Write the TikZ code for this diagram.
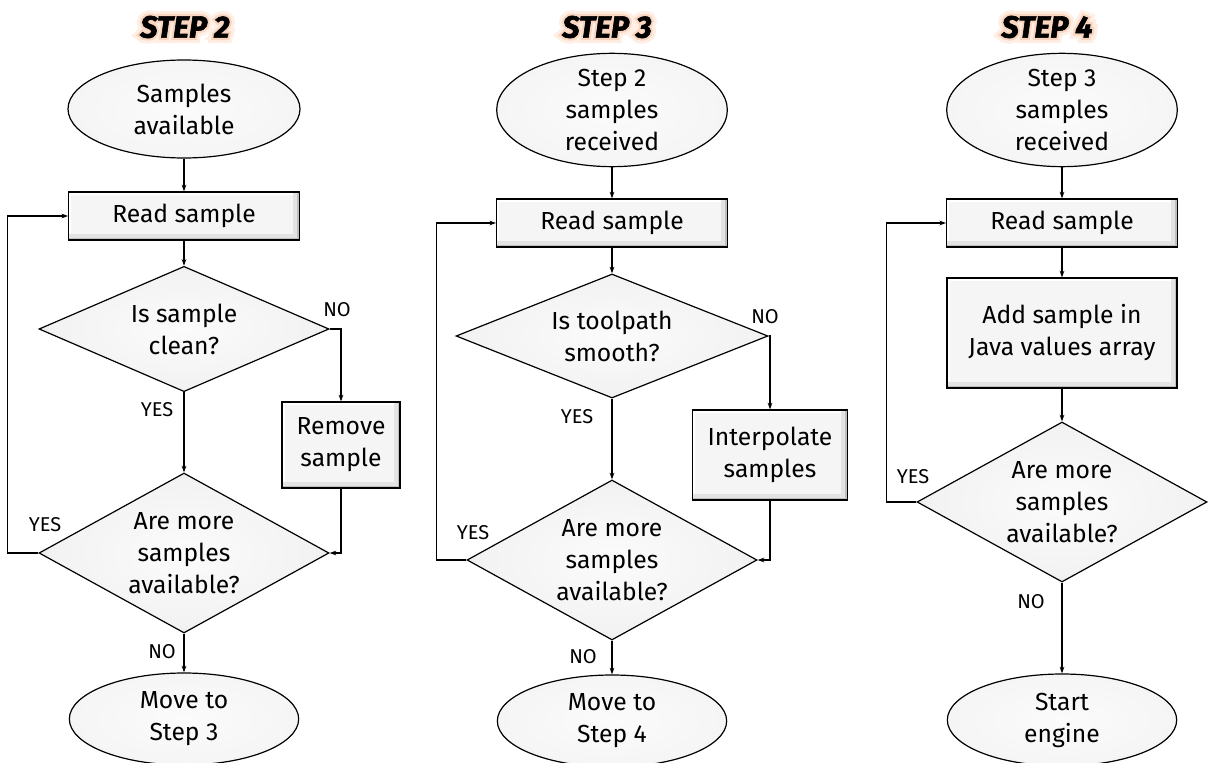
\documentclass[tikz,border=0pt]{standalone}
\usepackage{fontspec}
\setmainfont{Fira Sans}
\usetikzlibrary{shapes.geometric,arrows.meta}

\definecolor{glowout}{RGB}{254,238,228}
\definecolor{glowin}{RGB}{250,214,192}
\colorlet{shadeA}{gray!3}
\colorlet{shadeB}{gray!10}
\colorlet{shadeC}{gray!32}
\colorlet{shadeD}{gray!70}
\colorlet{boxgray}{gray!8}

\pgfdeclareradialshading{ovalshade}{\pgfpoint{0bp}{0bp}}{color(0bp)=(shadeA); color(36bp)=(shadeB); color(45bp)=(shadeC); color(50bp)=(shadeD)}
\pgfdeclareradialshading{diashade}{\pgfpoint{0bp}{0bp}}{color(0bp)=(shadeA); color(23bp)=(shadeB); color(31bp)=(shadeC); color(35.4bp)=(shadeD); color(50bp)=(shadeD)}

\tikzset{
  base/.style={draw=black, line width=0.9pt, align=center, text=black,
    font=\fontsize{18.5}{24}\selectfont},
  oval/.style={base, ellipse, inner sep=-4pt, shade, shading=ovalshade},
  box/.style={base, rectangle, inner sep=0pt, fill=boxgray,
    path picture={
      \draw[white, line width=4pt] (path picture bounding box.south west) |- (path picture bounding box.north east);
      \draw[gray!22, line width=9pt] (path picture bounding box.north east) |- (path picture bounding box.south west);
      \draw[gray!50, line width=3.5pt] (path picture bounding box.north east) |- (path picture bounding box.south west);
    }},
  decision/.style={base, diamond, inner sep=0pt, aspect=1.8, shade, shading=diashade},
  arr/.style={-{Stealth[length=5pt,width=3.5pt]}, line width=0.8pt},
  lbl/.style={font=\fontsize{15}{17}\selectfont, inner sep=0pt},
  ttl/.style={font=\fontsize{23}{26}\selectfont\bfseries\itshape, inner sep=0pt},
}

% heading with a soft halo (stroked copies behind the text)
\newcommand\glowtitle[3]{%
  \node[ttl, text=glowout] (#1o) at (#2) {\addfontfeature{FakeBold=36}#3};
  \node[ttl, text=glowin] (#1i) at (#2) {\addfontfeature{FakeBold=16}#3};
  \node[ttl] (#1) at (#2) {\addfontfeature{FakeBold=2}#3};
}

\begin{document}
\begin{tikzpicture}[x=0.75pt,y=0.75pt,yscale=-1,xscale=1]
\useasboundingbox (0,0) rectangle (1213,763);

\glowtitle{t2}{185,27}{STEP 2}
\node[oval, minimum width=174pt, minimum height=73.5pt] (s2start) at (184,109) {Samples\\available};
\node[box, minimum width=173pt, minimum height=36pt] (s2read) at (184,216) {Read sample};
\node[decision, minimum width=217.5pt, minimum height=94pt] (s2clean) at (184,329) {Is sample\\clean?};
\node[box, minimum width=88.5pt, minimum height=64.5pt] (s2remove) at (341,445) {Remove\\sample};
\node[decision, minimum width=217.5pt, minimum height=120pt] (s2more) at (184,553) {Are more\\samples\\available?};
\node[oval, minimum width=172pt, minimum height=69pt] (s2end) at (184,719) {Move to\\Step 3};
\draw[arr] (s2start) -- (s2read);
\draw[arr] (s2read) -- (s2clean);
\draw[arr] (s2clean.east) -| (s2remove.north);
\draw[arr] (s2clean.south) -- (s2more.north);
\draw[arr] (s2remove.south) |- (s2more.east);
\draw[arr] (s2more.west) -- ++(-31,0) |- (s2read.west);
\draw[arr] (s2more.south) -- (s2end.north);
\node[lbl] (s2no1) at (337,310) {NO};
\node[lbl] (s2yes1) at (157,410) {YES};
\node[lbl] (s2yes2) at (45,525) {YES};
\node[lbl] (s2no2) at (162,652) {NO};

\glowtitle{t3}{607,27}{STEP 3}
\node[oval, minimum width=173pt, minimum height=85pt] (s3start) at (612,110) {Step 2\\samples\\received};
\node[box, minimum width=173pt, minimum height=36pt] (s3read) at (612,223) {Read sample};
\node[decision, aspect=2.5, minimum width=234pt, minimum height=93pt] (s3smooth) at (612,336) {Is toolpath\\smooth?};
\node[box, minimum width=116pt, minimum height=67.5pt] (s3interp) at (770,455) {Interpolate\\samples};
\node[decision, minimum width=217.5pt, minimum height=120pt] (s3more) at (612,560) {Are more\\samples\\available?};
\node[oval, minimum width=172pt, minimum height=69pt] (s3end) at (612,721) {Move to\\Step 4};
\draw[arr] (s3start) -- (s3read);
\draw[arr] (s3read) -- (s3smooth);
\draw[arr] (s3smooth.east) -| (s3interp.north);
\draw[arr] (s3smooth.south) -- (s3more.north);
\draw[arr] (s3interp.south) |- (s3more.east);
\draw[arr] (s3more.west) -- ++(-30,0) |- (s3read.west);
\draw[arr] (s3more.south) -- (s3end.north);
\node[lbl] (s3no1) at (765,317) {NO};
\node[lbl] (s3yes1) at (577,417) {YES};
\node[lbl] (s3yes2) at (473,533) {YES};
\node[lbl] (s3no2) at (583,657) {NO};

\glowtitle{t4}{1047,27}{STEP 4}
\node[oval, minimum width=173pt, minimum height=85pt] (s4start) at (1062,110) {Step 3\\samples\\received};
\node[box, minimum width=173pt, minimum height=36pt] (s4read) at (1062,223) {Read sample};
\node[box, minimum width=172.5pt, minimum height=82.5pt] (s4add) at (1062,333) {Add sample in\\Java values array};
\node[decision, minimum width=217.5pt, minimum height=120pt] (s4more) at (1062,502) {Are more\\samples\\available?};
\node[oval, minimum width=172pt, minimum height=69pt] (s4end) at (1062,720) {Start\\engine};
\draw[arr] (s4start) -- (s4read);
\draw[arr] (s4read) -- (s4add);
\draw[arr] (s4add) -- (s4more);
\draw[arr] (s4more.west) -- ++(-30,0) |- (s4read.west);
\draw[arr] (s4more.south) -- (s4end.north);
\node[lbl] (s4yes) at (913,477) {YES};
\node[lbl] (s4no) at (1031,602) {NO};
\end{tikzpicture}
\end{document}
